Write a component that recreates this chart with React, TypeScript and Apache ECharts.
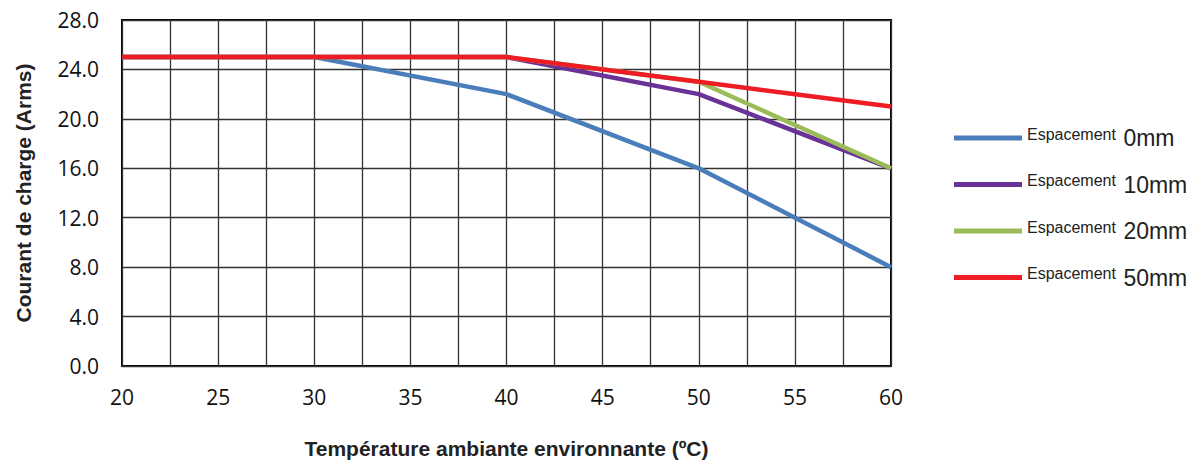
import React, { useEffect, useRef } from "react";
import * as echarts from "echarts";

const temperatures = [20, 30, 40, 50, 60];
const spacing0mm = [25, 25, 22, 16, 8];
const spacing10mm = [25, 25, 25, 22, 16];
const spacing20mm = [25, 25, 25, 23, 16];
const spacing50mm = [25, 25, 25, 23, 21];
const seriesNames = ["0mm", "10mm", "20mm", "50mm"];
const seriesColors = ["#4A7EBB", "#6A3297", "#9BBB59", "#EE1C25"];
const xTitle = "Température ambiante environnante (ºC)";
const yTitle = "Courant de charge (Arms)";

const toPairs = (vals: number[]) => temperatures.map((t, i) => [t, vals[i]]);

export default function App() {
  const ref = useRef<HTMLDivElement>(null);
  useEffect(() => {
    if (!ref.current) return;
    const chart = echarts.init(ref.current, undefined, { renderer: "svg" });
    const allData = [spacing0mm, spacing10mm, spacing20mm, spacing50mm];
    chart.setOption({
      animation: false,
      backgroundColor: "#ffffff",
      grid: {
        left: 122,
        right: 305,
        top: 20,
        bottom: 96,
        show: true,
        borderColor: "#000",
        borderWidth: 2,
        backgroundColor: "transparent",
      },
      legend: {
        orient: "vertical",
        left: 954,
        top: 126,
        padding: 0,
        itemWidth: 68,
        itemHeight: 5,
        itemGap: 23,
        icon: "rect",
        data: seriesNames,
        formatter: (name: string) => `{a|Espacement} {b|${name}}`,
        textStyle: {
          fontFamily: "Liberation Sans",
          fontSize: 16,
          color: "#222",
          rich: {
            a: {
              fontFamily: "Liberation Sans",
              fontSize: 16,
              color: "#222",
              verticalAlign: "top",
              lineHeight: 18,
            },
            b: {
              fontFamily: "Liberation Sans",
              fontSize: 23,
              color: "#222",
              lineHeight: 24,
              padding: [0, 0, 0, 3],
            },
          },
        },
      },
      xAxis: {
        type: "value",
        min: 20,
        max: 60,
        interval: 2.5,
        name: xTitle,
        nameLocation: "middle",
        nameGap: 72,
        nameTextStyle: {
          fontFamily: "Liberation Sans",
          fontWeight: "bold",
          fontSize: 21,
          color: "#222",
        },
        axisLine: { show: false },
        axisTick: { show: false },
        axisLabel: {
          margin: 20,
          fontFamily: "Open Sans",
          fontSize: 21,
          color: "#111",
          formatter: (v: number) => (v % 5 === 0 ? String(v) : ""),
        },
        splitLine: { show: true, lineStyle: { color: "#333", width: 1.3 } },
      },
      yAxis: {
        type: "value",
        min: 0,
        max: 28,
        interval: 4,
        name: yTitle,
        nameLocation: "middle",
        nameGap: 88,
        nameRotate: 90,
        nameTextStyle: {
          fontFamily: "Liberation Sans",
          fontWeight: "bold",
          fontSize: 21,
          color: "#222",
        },
        axisLine: { show: false },
        axisTick: { show: false },
        axisLabel: {
          margin: 23,
          fontFamily: "Open Sans",
          fontSize: 21,
          color: "#111",
          formatter: (v: number) => v.toFixed(1),
        },
        splitLine: { show: true, lineStyle: { color: "#333", width: 1.3 } },
      },
      series: seriesNames.map((name, i) => ({
        name,
        type: "line",
        data: toPairs(allData[i]),
        symbol: "none",
        color: seriesColors[i],
        lineStyle: { width: 4.5, color: seriesColors[i] },
        z: 2 + i,
      })),
    });
    return () => chart.dispose();
  }, []);
  return (
    <div
      ref={ref}
      style={{ position: "fixed", left: 0, top: 0, width: 1196, height: 464 }}
    />
  );
}
